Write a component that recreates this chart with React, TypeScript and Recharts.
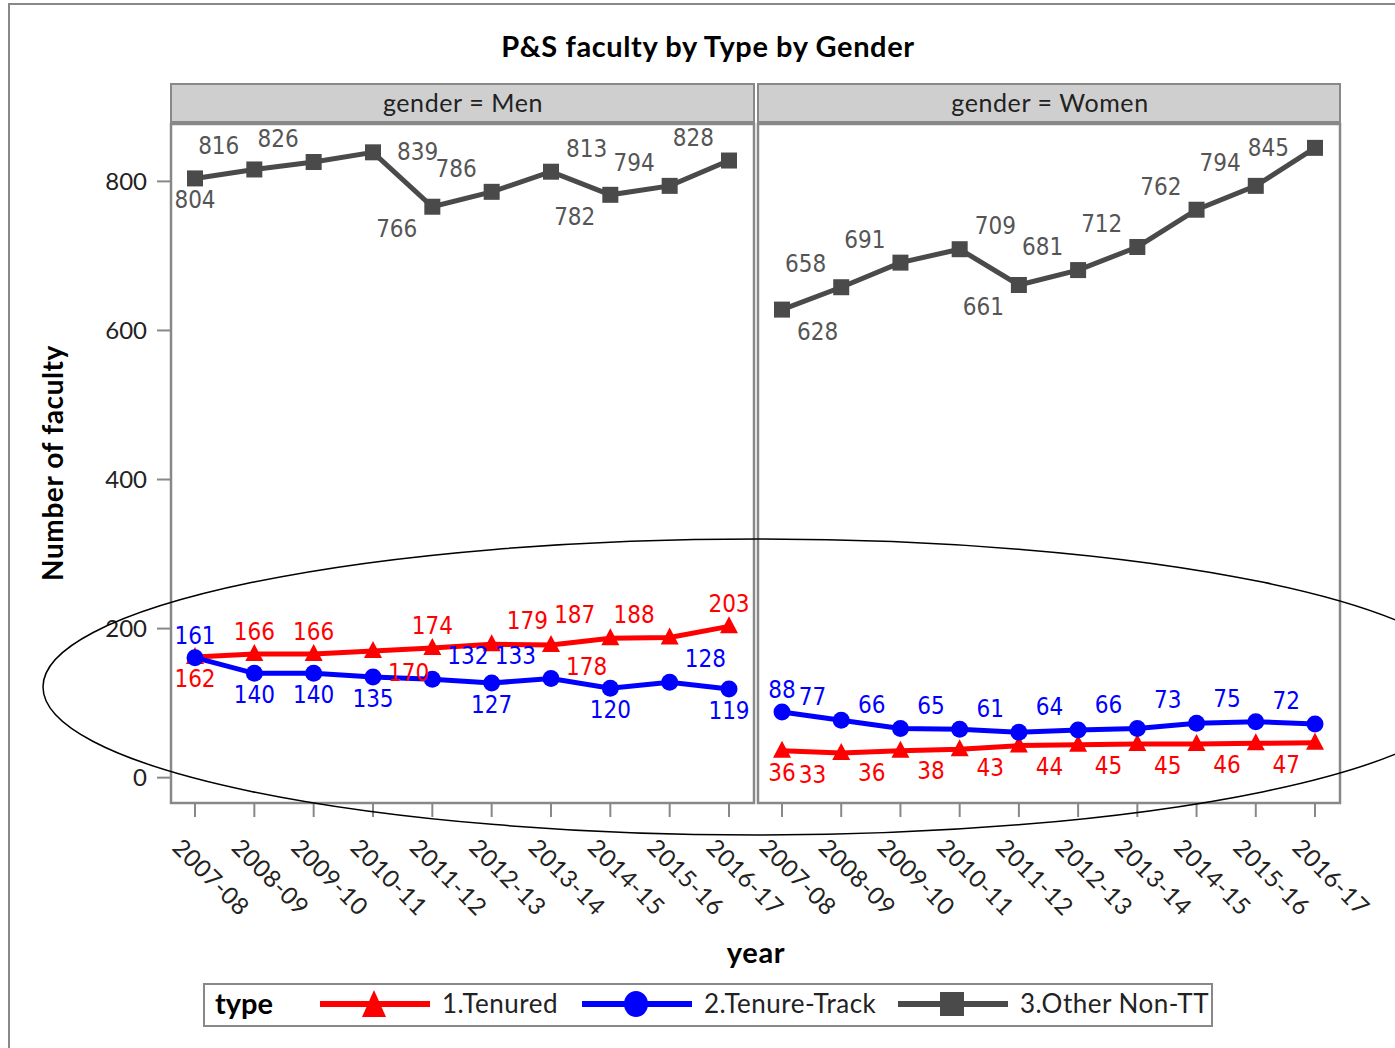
import { Line, LineChart, XAxis, YAxis } from "recharts";

const years = [
  "2007-08",
  "2008-09",
  "2009-10",
  "2010-11",
  "2011-12",
  "2012-13",
  "2013-14",
  "2014-15",
  "2015-16",
  "2016-17",
];
const menTenured = [162, 166, 166, 170, 174, 179, 178, 187, 188, 203];
const menTenureTrack = [161, 140, 140, 135, 132, 127, 133, 120, 128, 119];
const menOther = [804, 816, 826, 839, 766, 786, 813, 782, 794, 828];
const womenTenured = [36, 33, 36, 38, 43, 44, 45, 45, 46, 47];
const womenTenureTrack = [88, 77, 66, 65, 61, 64, 66, 73, 75, 72];
const womenOther = [628, 658, 691, 709, 661, 681, 712, 762, 794, 845];
const yTicks = [0, 200, 400, 600, 800];
const typeNames = ["1.Tenured", "2.Tenure-Track", "3.Other Non-TT"];

// where SAS put each data label (layout only, not data)
const menTenuredSpots = ["S", "N", "N", "SE", "N", "NE", "SE", "NW", "NW", "N"];
const menTTSpots = ["N", "S", "S", "S", "NE", "S", "NW", "S", "NE", "S"];
const menOtherSpots = ["S", "NW", "NW", "E", "SW", "NW", "NE", "SW", "NW", "NW"];
const womenTenuredSpots = ["S", "SW", "SW", "SW", "SW", "SW", "SW", "SW", "SW", "SW"];
const womenTTSpots = ["N", "NW", "NW", "NW", "NW", "NW", "NW", "NW", "NW", "NW"];
const womenOtherSpots = ["SE", "NW", "NW", "NE", "SW", "NW", "NW", "NW", "NW", "W"];

const RED = "#ff0000";
const BLUE = "#0000ff";
const GRAY = "#4a4a4a";
const FRAME = "#888888";
const LABEL_FONT = "'Liberation Sans Narrow', 'DejaVu Sans Condensed', Roboto, sans-serif";
const FONT = "Lato, 'Open Sans', sans-serif";
const Y_DOMAIN: [number, number] = [-34, 877];

const offsets: Record<string, [number, number, "start" | "middle" | "end"]> = {
  N: [0, -22, "middle"],
  S: [0, 22, "middle"],
  NE: [15, -23, "start"],
  NW: [-15, -23, "end"],
  SE: [15, 22, "start"],
  SW: [-15, 22, "end"],
  E: [24, 0, "start"],
  W: [-26, 0, "end"],
};

const makeLabel = (spots: string[], color: string) => (props: any) => {
  const { x, y, value, index } = props;
  const [dx, dy, anchor] = offsets[spots[index]] ?? offsets.N;
  return (
    <text
      key={`lbl-${index}`}
      x={x + dx}
      y={y + dy}
      textAnchor={anchor}
      dominantBaseline="central"
      fill={color}
      fontSize={24}
      fontFamily={LABEL_FONT}
    >
      {value}
    </text>
  );
};

const triangleDot = (props: any) => {
  const { cx, cy, index } = props;
  return (
    <polygon
      key={`tri-${index}`}
      points={`${cx},${cy - 10} ${cx - 9},${cy + 7} ${cx + 9},${cy + 7}`}
      fill={RED}
    />
  );
};

const circleDot = (props: any) => {
  const { cx, cy, index } = props;
  return <circle key={`cir-${index}`} cx={cx} cy={cy} r={8.5} fill={BLUE} />;
};

const squareDot = (props: any) => {
  const { cx, cy, index } = props;
  return <rect key={`sq-${index}`} x={cx - 8} y={cy - 8} width={16} height={16} fill={GRAY} />;
};

const YearTick = (props: any) => {
  const { x, y, payload } = props;
  const tx = x - 24;
  const ty = y + 30;
  return (
    <text
      x={tx}
      y={ty}
      transform={`rotate(45 ${tx} ${ty})`}
      textAnchor="start"
      fill="#222"
      fontSize={24}
      letterSpacing={0.6}
      fontFamily={FONT}
    >
      {payload.value}
    </text>
  );
};

function Panel({
  tenured,
  tenureTrack,
  other,
  spots,
  showY,
  width,
}: {
  tenured: number[];
  tenureTrack: number[];
  other: number[];
  spots: string[][];
  showY: boolean;
  width: number;
}) {
  const rows = years.map((year, i) => ({
    year,
    tenured: tenured[i],
    tenureTrack: tenureTrack[i],
    other: other[i],
  }));

  return (
    <LineChart
      width={width}
      height={940}
      data={rows}
      margin={{ top: 124, right: 2, bottom: 0, left: 0 }}
    >
      <XAxis
        dataKey="year"
        padding={{ left: 25, right: 26 }}
        height={137}
        axisLine={false}
        tickLine={{ stroke: FRAME, strokeWidth: 2 }}
        tickSize={14}
        tickMargin={2}
        interval={0}
        tick={<YearTick />}
      />
      <YAxis
        hide={!showY}
        width={showY ? 170 : 0}
        domain={Y_DOMAIN}
        ticks={yTicks}
        allowDataOverflow
        axisLine={false}
        tickLine={{ stroke: FRAME, strokeWidth: 2 }}
        tickSize={13}
        tickMargin={10}
        tick={{ fill: "#222", fontSize: 24, fontFamily: FONT }}
      />
      <Line
        dataKey="tenured"
        stroke={RED}
        strokeWidth={5}
        dot={triangleDot}
        activeDot={false}
        label={makeLabel(spots[0], RED)}
        isAnimationActive={false}
      />
      <Line
        dataKey="tenureTrack"
        stroke={BLUE}
        strokeWidth={5}
        dot={circleDot}
        activeDot={false}
        label={makeLabel(spots[1], BLUE)}
        isAnimationActive={false}
      />
      <Line
        dataKey="other"
        stroke={GRAY}
        strokeWidth={5}
        dot={squareDot}
        activeDot={false}
        label={makeLabel(spots[2], "#555555")}
        isAnimationActive={false}
      />
    </LineChart>
  );
}

export default function App() {
  const legendItems = [
    { name: typeNames[0], color: RED, x: 320, shape: "tri" },
    { name: typeNames[1], color: BLUE, x: 582, shape: "cir" },
    { name: typeNames[2], color: GRAY, x: 898, shape: "sq" },
  ];

  return (
    <div
      style={{
        position: "absolute",
        left: 0,
        top: 0,
        width: 1395,
        height: 1048,
        background: "#fff",
        overflow: "hidden",
        fontFamily: FONT,
      }}
    >
      <style>{`.recharts-surface{overflow:visible}`}</style>
      <div style={{ position: "absolute", left: 0, top: 0 }}>
        <Panel
          tenured={menTenured}
          tenureTrack={menTenureTrack}
          other={menOther}
          spots={[menTenuredSpots, menTTSpots, menOtherSpots]}
          showY
          width={757}
        />
      </div>
      <div style={{ position: "absolute", left: 757, top: 0 }}>
        <Panel
          tenured={womenTenured}
          tenureTrack={womenTenureTrack}
          other={womenOther}
          spots={[womenTenuredSpots, womenTTSpots, womenOtherSpots]}
          showY={false}
          width={586}
        />
      </div>

      <svg
        width={1395}
        height={1048}
        style={{ position: "absolute", left: 0, top: 0, pointerEvents: "none" }}
      >
        <rect x={9} y={4} width={1420} height={1080} fill="none" stroke={FRAME} strokeWidth={2} />
        <text
          x={708}
          y={57}
          textAnchor="middle"
          fontSize={29}
          letterSpacing={0.6}
          fontWeight="bold"
          fill="#000"
        >
          P&amp;S faculty by Type by Gender
        </text>

        {/* panel headers */}
        <rect x={171} y={84} width={583} height={38} fill="#cfcfcf" stroke={FRAME} strokeWidth={2} />
        <rect x={758} y={84} width={582} height={38} fill="#cfcfcf" stroke={FRAME} strokeWidth={2} />
        <text x={463} y={112} textAnchor="middle" fontSize={25} letterSpacing={0.6} fill="#222">
          gender = Men
        </text>
        <text x={1050} y={112} textAnchor="middle" fontSize={25} letterSpacing={0.6} fill="#222">
          gender = Women
        </text>

        {/* plot frames */}
        <rect x={171} y={124} width={583} height={679} fill="none" stroke={FRAME} strokeWidth={2.5} />
        <rect x={758} y={124} width={582} height={679} fill="none" stroke={FRAME} strokeWidth={2.5} />

        <text
          x={52}
          y={463}
          transform="rotate(-90 52 463)"
          textAnchor="middle"
          dominantBaseline="central"
          fontSize={28}
          letterSpacing={0.6}
          fontWeight="bold"
          fill="#000"
        >
          Number of faculty
        </text>
        <text
          x={756}
          y={963}
          textAnchor="middle"
          fontSize={29}
          letterSpacing={0.6}
          fontWeight="bold"
          fill="#000"
        >
          year
        </text>

        {/* legend */}
        <rect x={204} y={984} width={1008} height={42} fill="#fff" stroke={FRAME} strokeWidth={2} />
        <text x={215} y={1014} fontSize={29} fontWeight="bold" fill="#000">
          type
        </text>
        {legendItems.map((it) => {
          const mid = it.x + 54;
          return (
            <g key={it.name}>
              <line x1={it.x} x2={it.x + 110} y1={1004} y2={1004} stroke={it.color} strokeWidth={6} />
              {it.shape === "tri" && (
                <polygon
                  points={`${mid},${990} ${mid - 12},${1017} ${mid + 12},${1017}`}
                  fill={it.color}
                />
              )}
              {it.shape === "cir" && <ellipse cx={mid} cy={1004} rx={12} ry={13} fill={it.color} />}
              {it.shape === "sq" && (
                <rect x={mid - 12} y={992} width={24} height={24} fill={it.color} />
              )}
              <text x={it.x + 122} y={1013} fontSize={26} letterSpacing={0.5} fill="#222">
                {it.name}
              </text>
            </g>
          );
        })}

        {/* hand-drawn highlight */}
        <ellipse cx={758} cy={687} rx={715} ry={148} fill="none" stroke="#000" strokeWidth={1.5} />
      </svg>
    </div>
  );
}
